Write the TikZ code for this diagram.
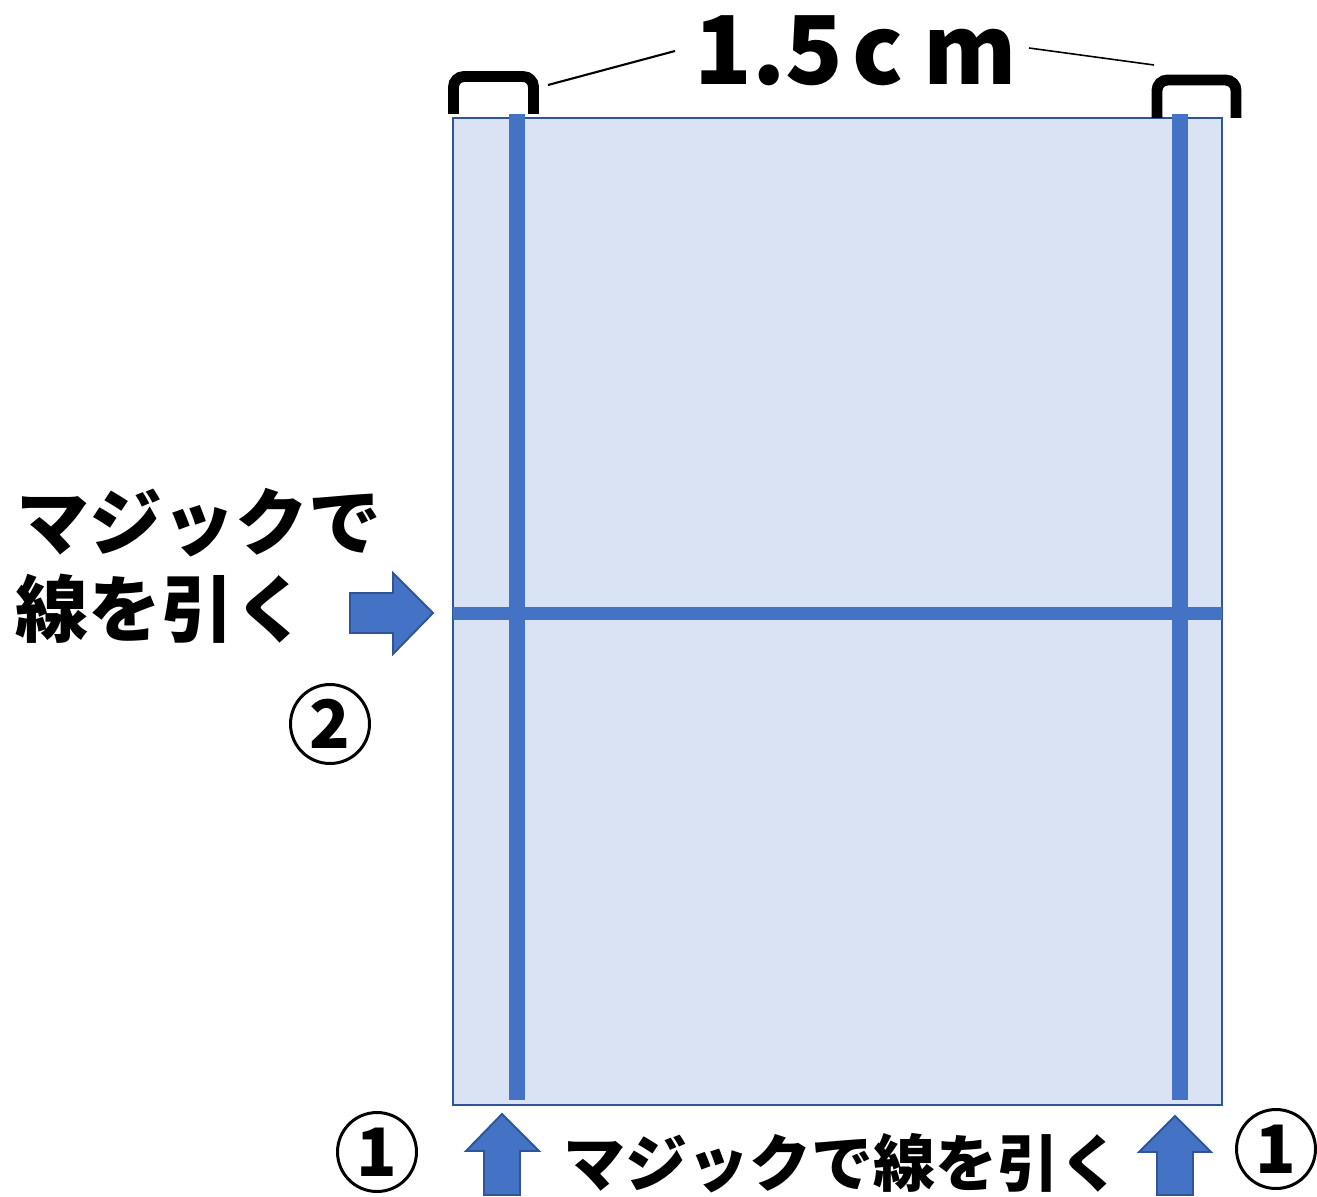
\documentclass[tikz,border=0pt]{standalone}
\usepackage{fontspec}
\newfontfamily\jp{Noto Sans CJK JP}
\definecolor{foglio}{HTML}{DAE3F3}
\definecolor{bordo}{HTML}{2F5597}
\definecolor{blu}{HTML}{4472C4}
\begin{document}
\begin{tikzpicture}[x=0.02cm, y=-0.02cm,
    linea/.style={blu, line width=9pt},
    freccia/.style={fill=blu, draw=bordo, line width=1.1pt, line join=miter},
    staffa/.style={line width=6.2pt, rounded corners=6pt},
    numero/.style={circle, draw, line width=1.7pt, minimum size=1.58cm, inner sep=0pt,
        font={\jp\bfseries\fontsize{38pt}{38pt}\selectfont}},
    scritta/.style={anchor=base west, inner sep=0pt}]
        \useasboundingbox (0,0) rectangle (1317,1196);

        % Foglio
        \draw[fill=foglio, draw=bordo, line width=1.1pt] (453,118) rectangle (1222,1105);

        % Linee a 1.5 cm (1) e linea centrale (2)
        \draw[linea] (517,114) -- (517,1100);
        \draw[linea] (1180,114) -- (1180,1100);
        \draw[linea, line width=7.4pt] (453,613) -- (1222,613);

        % Staffe della misura
        \draw[staffa] (453.5,114) -- (453.5,76.5) -- (533.5,76.5) -- (533.5,114);
        \draw[staffa] (1157,118) -- (1157,80) -- (1236,80) -- (1236,118);

        % Etichetta della misura e linee di richiamo
        \node[scritta] (misura) at (694,85) {\jp\bfseries\fontsize{54pt}{54pt}\selectfont 1.5\hspace{0.18cm}c\hspace{0.4cm}m};
        \coordinate (staffaS) at (548,85);
        \coordinate (richiamoS) at (675,51);
        \coordinate (richiamoD) at (1029,48);
        \coordinate (staffaD) at (1154,65);
        \draw[line width=1.2pt] (staffaS) -- (richiamoS);
        \draw[line width=0.9pt] (richiamoD) -- (staffaD);

        % Frecce
        \draw[freccia] (350,593) -- (393,593) -- (393,573) -- (433,613) -- (393,654) -- (393,633) -- (350,633) -- cycle;
        \draw[freccia] (484,1195) -- (484,1151) -- (466,1151) -- (502,1114) -- (539,1151) -- (520,1151) -- (520,1195) -- cycle;
        \draw[freccia] (1157,1195) -- (1157,1152) -- (1139,1152) -- (1175,1116) -- (1211,1152) -- (1193,1152) -- (1193,1195) -- cycle;

        % Testi
        \node[scritta] (testoA1) at (16,549) {\jp\bfseries\fontsize{41.5pt}{41.5pt}\selectfont マジックで};
        \node[scritta] (testoA2) at (15,636) {\jp\bfseries\fontsize{41.5pt}{41.5pt}\selectfont 線を引く};
        \node[scritta] (testoB) at (563,1186) {\jp\bfseries\fontsize{35.3pt}{35.3pt}\selectfont マジックで線を引く};

        % Numeri cerchiati
        \node[numero] (due) at (330,724) {2};
        \node[numero] (unoS) at (377,1152) {1};
        \node[numero] (unoD) at (1276,1149) {1};

    \end{tikzpicture}
\end{document}
